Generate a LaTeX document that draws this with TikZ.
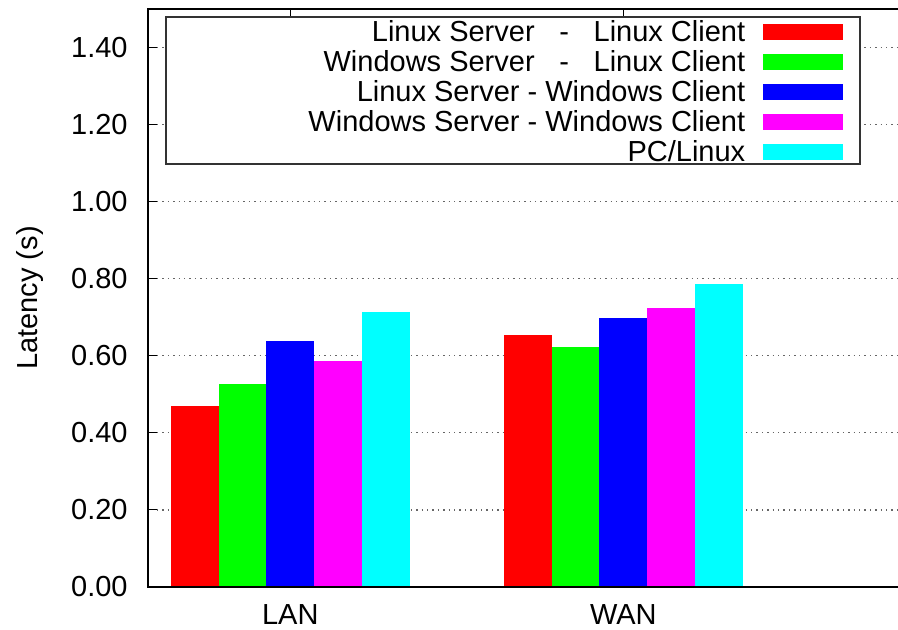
\documentclass[tikz,border=0pt]{standalone}
\usepackage{fontspec}
\setmainfont{Liberation Sans}
\usetikzlibrary{positioning, calc}

\definecolor{barred}{RGB}{255,0,0}
\definecolor{bargreen}{RGB}{0,255,0}
\definecolor{barblue}{RGB}{0,0,255}
\definecolor{barmagenta}{RGB}{255,0,255}
\definecolor{barcyan}{RGB}{0,255,255}

\begin{document}
\begin{tikzpicture}[x=0.5pt, y=0.5pt,
                        labeltext/.style={font=\fontsize{14.5}{17}\selectfont, inner sep=0pt},
                        ticklabel/.style={labeltext, anchor=base east},
                        legendtext/.style={labeltext, anchor=base east},
                        gridline/.style={black!60, dotted, line width=0.7pt},
                        axisline/.style={black, line width=1pt},
                        swatch/.style={draw=none, minimum width=40pt, minimum height=8pt, inner sep=0pt},
                        ]
        \useasboundingbox (0,0) rectangle (898,630);

        %Grid and ticks
        \foreach \v/\lab in {0/0.00, 0.2/0.20, 0.4/0.40, 0.6/0.60, 0.8/0.80, 1.0/1.00, 1.2/1.20, 1.4/1.40} {
            \pgfmathsetmacro{\yy}{43+385.5*\v}
            \draw[gridline] (157,\yy) -- (898,\yy);
            \draw[axisline, line width=0.6pt] (148,\yy) -- (157,\yy);
            \node[ticklabel] at (128,\yy-10) {\lab};
        }
        \foreach \g in {0,1} {
            \pgfmathsetmacro{\xx}{290.3+333*\g}
            \draw[axisline, line width=0.6pt] (\xx,621) -- (\xx,612);
        }

        %Bars
        \foreach \g/\vals in {0/{0.469,0.527,0.638,0.585,0.713}, 1/{0.654,0.622,0.697,0.723,0.786}} {
            \foreach \h [count=\i from 0] in \vals {
                \pgfmathsetmacro{\xa}{171+333*\g+47.7*\i}
                \pgfmathsetmacro{\ya}{43+385.5*\h}
                \ifcase\i \def\barcol{barred}\or \def\barcol{bargreen}\or \def\barcol{barblue}\or \def\barcol{barmagenta}\or \def\barcol{barcyan}\fi
                \fill[\barcol] (\xa,43) rectangle (\xa+47.7,\ya);
            }
        }

        %Axes
        \draw[axisline] (898,621) -- (148,621) -- (148,43) -- (898,43);

        %Axis labels
        \node[labeltext, anchor=base] (lan) at (290.3,5) {LAN};
        \node[labeltext, anchor=base] (wan) at (623.3,5) {WAN};
        \node[labeltext, anchor=base, rotate=90] (ylab) at (37,332) {Latency (s)};

        %Legend
        \draw[black!80, line width=0.8pt, fill=white] (166,613) rectangle (860,466);
        \node[swatch, fill=barred]     (swRR) at (803,598)   {};
        \node[swatch, fill=bargreen]   (swWL) [below=6.6pt of swRR] {};
        \node[swatch, fill=barblue]    (swLW) [below=6.6pt of swWL] {};
        \node[swatch, fill=barmagenta] (swWW) [below=6.6pt of swLW] {};
        \node[swatch, fill=barcyan]    (swPC) [below=6.6pt of swWW] {};

        \node[legendtext] (txRR) at ($(swRR.west)+(-17,-10)$) {Linux Server\hspace{0.85em}-\hspace{0.85em}Linux Client};
        \node[legendtext] (txWL) at ($(swWL.west)+(-17,-10)$) {Windows Server\hspace{0.85em}-\hspace{0.85em}Linux Client};
        \node[legendtext] (txLW) at ($(swLW.west)+(-17,-10)$) {Linux Server - Windows Client};
        \node[legendtext] (txWW) at ($(swWW.west)+(-17,-10)$) {Windows Server - Windows Client};
        \node[legendtext] (txPC) at ($(swPC.west)+(-17,-10)$) {PC/Linux};
    \end{tikzpicture}
\end{document}
